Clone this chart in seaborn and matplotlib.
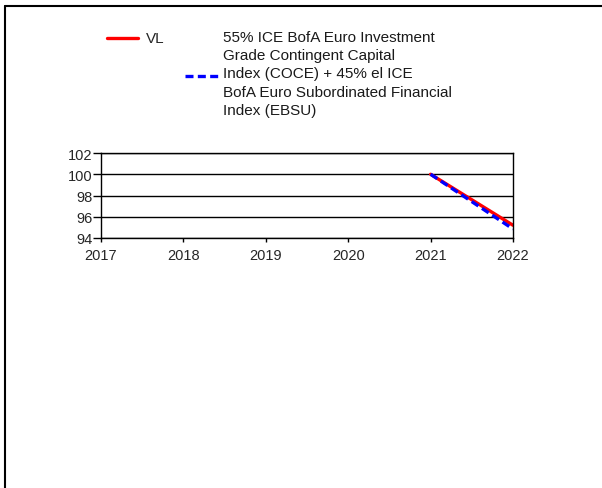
import matplotlib
matplotlib.use("Agg")
import matplotlib.pyplot as plt
import seaborn as sns
import pandas as pd
from matplotlib.lines import Line2D

# data
years = [2021, 2022]
vl_values = [100.0, 95.2]
bench_values = [100.0, 94.85]
x_ticks = [2017, 2018, 2019, 2020, 2021, 2022]
y_ticks = [94, 96, 98, 100, 102]
vl_label = "VL"
bench_label = ("55% ICE BofA Euro Investment\nGrade Contingent Capital\n"
               "Index (COCE) + 45% el ICE\nBofA Euro Subordinated Financial\n"
               "Index (EBSU)")

df = pd.DataFrame({
    "year": years * 2,
    "value": vl_values + bench_values,
    "serie": [vl_label] * len(years) + [bench_label] * len(years),
})

sns.set_style("white")
plt.rcParams['font.family'] = ['Liberation Sans', 'DejaVu Sans']

W, H = 602, 489
fig = plt.figure(figsize=(W / 100, H / 100), dpi=100)
ax = fig.add_axes([101 / W, 1 - 239 / H, 412 / W, 85 / H])

red, blue = "#ff0000", "#0000ff"
dash = (0, (2.4, 1.3))
sns.lineplot(data=df, x="year", y="value", hue="serie", style="serie",
             palette={vl_label: red, bench_label: blue},
             dashes={vl_label: "", bench_label: dash[1]},
             linewidth=2.4, ax=ax, legend=False)

ax.set_xlim(2017, 2022)
ax.set_ylim(94, 102)
ax.set_xticks(x_ticks)
ax.set_yticks(y_ticks)
ax.set_xlabel("")
ax.set_ylabel("")
ax.grid(axis="y", color="black", linewidth=1)
ax.set_axisbelow(True)
for s in ax.spines.values():
    s.set_color("black")
    s.set_linewidth(1)
ax.tick_params(axis="y", direction="out", length=6, width=1, color="black",
               labelsize=10.5, pad=0, left=True)
ax.tick_params(axis="x", direction="out", length=3, width=1, color="black",
               labelsize=10.5, pad=4, bottom=True)

# legend drawn by hand: red entry at the top, blue handle beside the middle line
def fx(px):
    return px / W

def fy(py):
    return 1 - py / H

fig.add_artist(Line2D([fx(107), fx(138)], [fy(39), fy(39)], color=red,
                      linewidth=2.4, transform=fig.transFigure))
fig.text(fx(146), fy(39), vl_label, fontsize=11, va="center", ha="left")
fig.add_artist(Line2D([fx(185), fx(218)], [fy(77), fy(77)], color=blue,
                      linewidth=2.4, linestyle=dash, transform=fig.transFigure))
fig.text(fx(223), fy(31), bench_label, fontsize=11, va="top", ha="left",
         linespacing=1.38, color="#1a1a1a")

# frame lines at left and top of the picture
fig.add_artist(Line2D([fx(5), fx(5)], [0, fy(7)], color="black",
                      linewidth=1.5, transform=fig.transFigure))
fig.add_artist(Line2D([fx(5), 1], [fy(7), fy(7)], color="black",
                      linewidth=1.5, transform=fig.transFigure))

fig.savefig("out.png", dpi=100)
